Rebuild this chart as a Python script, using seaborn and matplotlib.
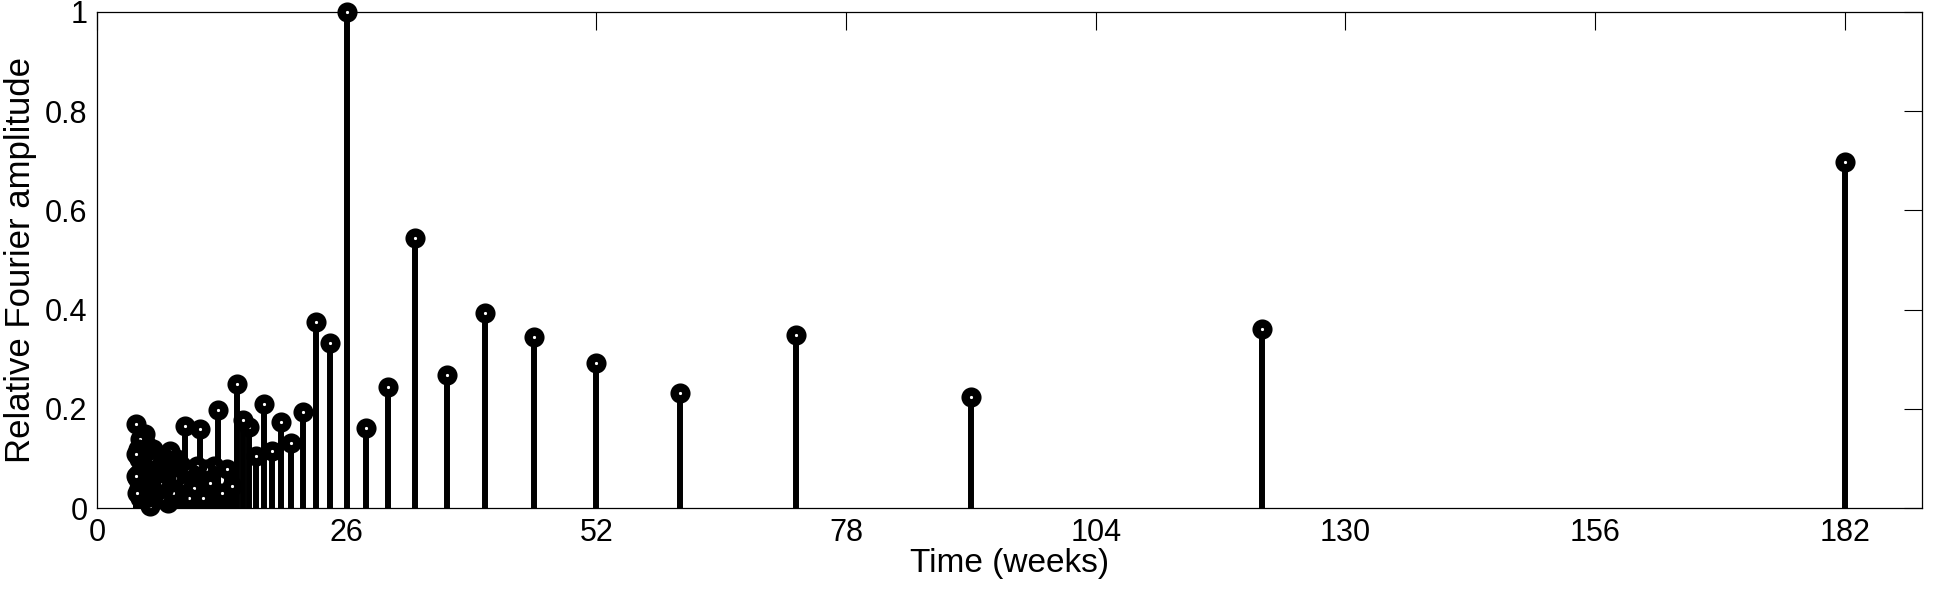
import numpy as np
import matplotlib
matplotlib.use("Agg")
import matplotlib.pyplot as plt
import seaborn as sns

# --- data (period in weeks, relative amplitude) ---
# isolated long-period stems
period_long = [182.0, 121.33, 91.0, 72.8, 60.67, 52.0, 45.5, 40.44, 36.4, 33.09, 30.33, 28.0]
amp_long = [0.698, 0.362, 0.225, 0.348, 0.232, 0.292, 0.345, 0.393, 0.268, 0.545, 0.245, 0.162]

# medium periods around half a year
period_mid = [26.0, 24.27, 22.75, 21.41, 20.22, 19.16, 18.2, 17.33, 16.55, 15.83, 15.17, 14.56, 14.0]
amp_mid = [1.0, 0.332, 0.376, 0.193, 0.132, 0.174, 0.115, 0.21, 0.105, 0.163, 0.178, 0.25, 0.045]

# dense short-period cluster (estimated, mostly hidden in the blob)
period_short = [13.48, 13.0, 12.55, 12.13, 11.74, 11.38, 11.03, 10.71, 10.4, 10.11,
                9.84, 9.58, 9.33, 9.1, 8.88, 8.67, 8.47, 8.27, 8.09, 7.91,
                7.74, 7.58, 7.43, 7.28, 7.14, 7.0, 6.87, 6.74, 6.62, 6.5,
                6.39, 6.28, 6.17, 6.07, 5.97, 5.87, 5.78, 5.69, 5.6, 5.52,
                5.43, 5.35, 5.28, 5.2, 5.13, 5.06, 4.99, 4.92, 4.85, 4.79,
                4.73, 4.67, 4.61, 4.55, 4.49, 4.44, 4.39, 4.33, 4.28, 4.23,
                4.18, 4.14, 4.09, 4.04, 4.0]
amp_short = [0.08, 0.03, 0.198, 0.085, 0.05, 0.08, 0.02, 0.16, 0.085, 0.04,
             0.07, 0.02, 0.08, 0.165, 0.05, 0.09, 0.02, 0.10, 0.06, 0.03,
             0.09, 0.115, 0.01, 0.10, 0.06, 0.04, 0.10, 0.02, 0.105, 0.05,
             0.09, 0.11, 0.07, 0.03, 0.11, 0.08, 0.12, 0.04, 0.10, 0.005,
             0.12, 0.07, 0.05, 0.12, 0.02, 0.13, 0.15, 0.06, 0.11, 0.03,
             0.13, 0.09, 0.05, 0.12, 0.02, 0.14, 0.04, 0.10, 0.07, 0.12,
             0.03, 0.06, 0.11, 0.065, 0.17]

x_ticks = [0, 26, 52, 78, 104, 130, 156, 182]
y_ticks = [0, 0.2, 0.4, 0.6, 0.8, 1.0]
y_tick_labels = ["0", "0.2", "0.4", "0.6", "0.8", "1"]

period = np.array(period_long + period_mid + period_short)
amp = np.array(amp_long + amp_mid + amp_short)

# --- style ---
sns.set_theme(style="white")
plt.rcParams["font.family"] = ["Liberation Sans", "DejaVu Sans"]
plt.rcParams.update({
    "xtick.direction": "in", "ytick.direction": "in",
    "xtick.top": True, "ytick.right": True,
    "xtick.major.size": 13, "ytick.major.size": 13,
    "xtick.major.width": 0.8, "ytick.major.width": 0.8,
    "axes.edgecolor": "black", "axes.linewidth": 0.9,
})

fig = plt.figure(figsize=(19.43, 5.91), dpi=100)
ax = fig.add_axes([0.050, 0.140, 0.939, 0.840])

# stems
ax.vlines(period, 0, amp, color="black", linewidth=4.3, zorder=2)
# heads (thick edge, tiny hole, like the MATLAB stem markers)
sns.scatterplot(x=period, y=amp, marker="o", s=72, color="white",
                edgecolor="black", linewidth=6, ax=ax, zorder=3,
                clip_on=False, legend=False)

ax.set_xlim(0, 190)
ax.set_ylim(0, 1)
ax.set_xticks(x_ticks)
ax.set_xticklabels([str(t) for t in x_ticks])
ax.set_yticks(y_ticks)
ax.set_yticklabels(y_tick_labels)
ax.tick_params(labelsize=22, pad=7, colors="black")
ax.set_xlabel("Time (weeks)", fontsize=24, labelpad=0, color="black")
ax.set_ylabel("Relative Fourier amplitude", fontsize=25, labelpad=6, color="black")
for s in ax.spines.values():
    s.set_visible(True)

fig.savefig("out.png", dpi=100, facecolor="white")
